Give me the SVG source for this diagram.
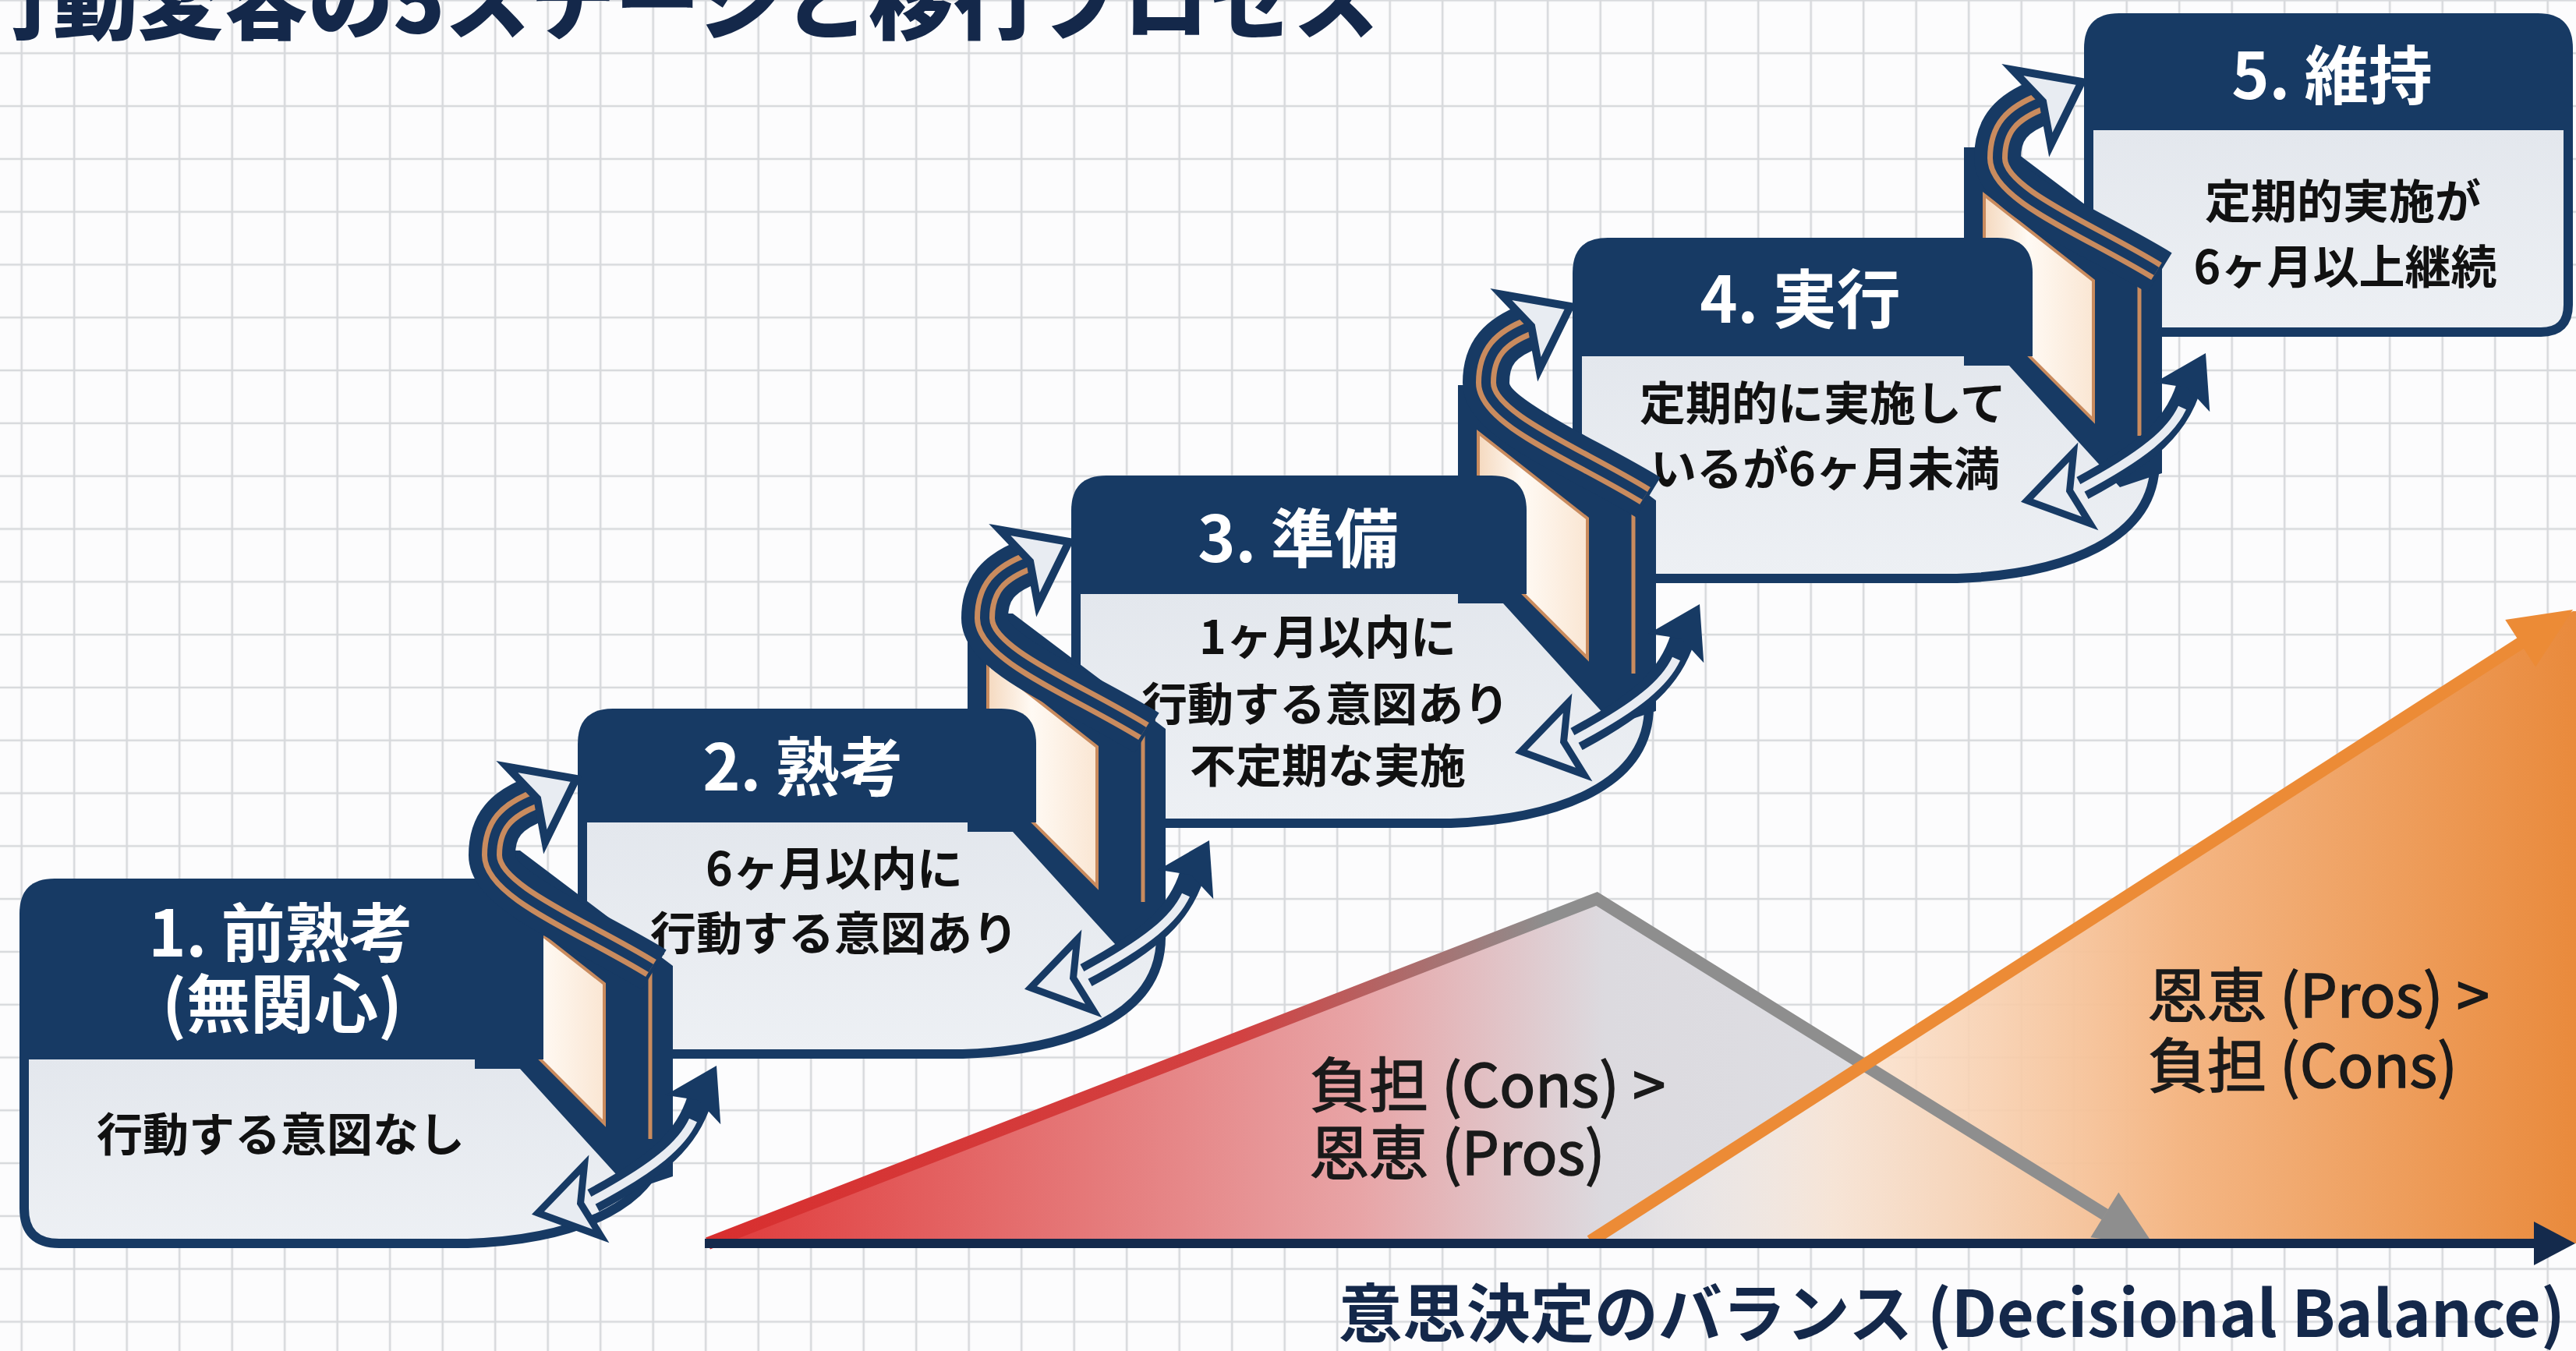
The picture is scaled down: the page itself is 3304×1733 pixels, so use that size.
<svg xmlns="http://www.w3.org/2000/svg" width="3304" height="1733" viewBox="0 0 3304 1733">
<defs>
  <style>
    .navy{fill:#173a64}
    .body{fill:url(#bodyFill);stroke:#173a64;stroke-width:12}
    .th{font-family:"Noto Sans CJK JP","Noto Sans",sans-serif;font-weight:700;font-size:82px;fill:#ffffff;text-anchor:middle}
    .tb{font-family:"Noto Sans CJK JP","Noto Sans",sans-serif;font-weight:700;font-size:59px;fill:#111111;text-anchor:middle}
    .lab{font-family:"Noto Sans CJK JP","Noto Sans",sans-serif;font-weight:400;font-size:76px;fill:#1a1a1a;stroke:#1a1a1a;stroke-width:1.6}
    .cu{fill:none;stroke:#c98b5e}
  </style>
  <pattern id="grid" patternUnits="userSpaceOnUse" x="-6.05" y="34.4" width="67.5" height="67.8">
    <path d="M33.75 0V67.8M0 33.9H67.5" stroke="#d7d9dc" stroke-width="2.6" fill="none"/>
  </pattern>
  <linearGradient id="bodyFill" x1="0" y1="0" x2="0" y2="1">
    <stop offset="0" stop-color="#e3e7ed"/><stop offset="1" stop-color="#edf0f4"/>
  </linearGradient>
  <linearGradient id="creamFace" x1="0" y1="0" x2="1" y2="0">
    <stop offset="0" stop-color="#f5d9bf"/><stop offset="0.4" stop-color="#fffaf4"/><stop offset="1" stop-color="#fae6d3"/>
  </linearGradient>
  <linearGradient id="consFill" gradientUnits="userSpaceOnUse" x1="908" y1="0" x2="2763" y2="0">
    <stop offset="0" stop-color="#e03a3a"/><stop offset="0.2" stop-color="#e46a6a"/>
    <stop offset="0.45" stop-color="#e8a4a6"/><stop offset="0.62" stop-color="#dcdadf"/>
    <stop offset="1" stop-color="#dfe2e7"/>
  </linearGradient>
  <linearGradient id="consLine" gradientUnits="userSpaceOnUse" x1="908" y1="0" x2="2763" y2="0">
    <stop offset="0" stop-color="#d82f2f"/><stop offset="0.37" stop-color="#d24242"/>
    <stop offset="0.58" stop-color="#8e8e8e"/><stop offset="1" stop-color="#8e8e8e"/>
  </linearGradient>
  <linearGradient id="prosFill" gradientUnits="userSpaceOnUse" x1="2040" y1="0" x2="3304" y2="0">
    <stop offset="0" stop-color="#ffffff" stop-opacity="0"/><stop offset="0.25" stop-color="#fbe5d3" stop-opacity="0.85"/>
    <stop offset="0.6" stop-color="#f4b684"/><stop offset="1" stop-color="#e98a3c"/>
  </linearGradient>

  <!-- riser block at the right of a header; origin = header bottom-right corner -->
  <g id="slab">
    <polygon class="navy" points="-88,-268 -30,-268 166,-120 166,150 112,168 -30,12 -88,12"/>
    <polygon points="-62,-207 78,-97 78,82 -62,-58" fill="url(#creamFace)" stroke="#c98b5e" stroke-width="4"/>
    <path class="cu" d="M137,-112V102" stroke-width="5"/>
  </g>

  <!-- forward arrow rising to the next stage -->
  <g id="ribbon">
    <path d="M150,-115C60,-170 -58,-215 -58,-262C-58,-300 -40,-320 0,-335" fill="none" stroke="#173a64" stroke-width="60"/>
    <path d="M146,-117C60,-170 -58,-215 -58,-262C-58,-300 -40,-320 0,-335" fill="none" stroke="#c98b5e" stroke-width="26"/>
    <path d="M146,-117C60,-170 -58,-215 -58,-262C-58,-300 -40,-320 0,-335" fill="none" stroke="#173a64" stroke-width="12"/>
    <polygon points="0,0 -72,-54 -56,0 -72,54" transform="translate(50,-360) rotate(-27)" fill="#e8ecf2" stroke="#173a64" stroke-width="10"/>
  </g>

  <!-- two-way arrow: progress up / relapse back -->
  <g id="cycle">
    <path d="M200,52C185,100 150,135 64,181" fill="none" stroke="#173a64" stroke-width="32"/>
    <path d="M192,78C178,108 145,138 60,183" fill="none" stroke="#e8ecf2" stroke-width="11"/>
    <polygon points="0,0 -64,-40 -50,0 -64,40" transform="translate(222,8) rotate(-62)" fill="#173a64"/>
    <polygon points="0,0 -72,-47 -56,0 -72,47" transform="translate(-7,197) rotate(167)" fill="#e8ecf2" stroke="#173a64" stroke-width="9"/>
  </g>
</defs>

<rect width="3304" height="1733" fill="#fcfcfd"/>
<rect width="3304" height="1733" fill="url(#grid)"/>

<text x="-41" y="42" textLength="1809" lengthAdjust="spacingAndGlyphs" font-family="'Noto Sans CJK JP','Noto Sans',sans-serif" font-weight="900" font-size="110" fill="#14284a">行動変容の5ステージと移行プロセス</text>

<!-- decisional balance chart -->
<g id="decisional-balance">
  <polygon points="908,1595 2048,1153 2763,1598" fill="url(#consFill)"/>
  <polygon points="2040,1595 3300,784 3304,784 3304,1595" fill="url(#prosFill)"/>
  <polyline points="908,1595 2048,1153 2700,1558" fill="none" stroke="url(#consLine)" stroke-width="16" stroke-linejoin="miter"/>
  <polygon points="0,0 -75,-34 -75,34" transform="translate(2763,1598) rotate(31.9)" fill="#8e8e8e"/>
  <line x1="2040" y1="1592" x2="3236" y2="823" stroke="#ec8b36" stroke-width="16"/>
  <polygon points="0,0 -80,-36 -80,36" transform="translate(3300,782) rotate(-32.7)" fill="#ec8b36"/>
  <line x1="904" y1="1595" x2="3255" y2="1595" stroke="#142a4c" stroke-width="12"/>
  <polygon points="3303,1595 3250,1567 3250,1623" fill="#142a4c"/>
  <text class="lab" x="1680" y="1420">負担 (Cons) &gt;</text>
  <text class="lab" x="1680" y="1507">恩恵 (Pros)</text>
  <text class="lab" x="2755" y="1305">恩恵 (Pros) &gt;</text>
  <text class="lab" x="2755" y="1395">負担 (Cons)</text>
  <text x="3290" y="1715" text-anchor="end" font-family="'Noto Sans CJK JP','Noto Sans',sans-serif" font-weight="700" font-size="82" fill="#14284a">意思決定のバランス (Decisional Balance)</text>
</g>

<!-- stage 5 -->
<g id="stage5">
  <path class="body" d="M2679,161V391Q2679,426 2714,426H3259Q3294,426 3294,391V161Z"/>
  <path class="navy" d="M2673,167V62Q2673,17 2718,17H3255Q3300,17 3300,62V167Z"/>
  <text class="th" x="2991" y="127">5. 維持</text>
  <text class="tb" x="3005" y="280">定期的実施が</text>
  <text class="tb" x="3008" y="364">6ヶ月以上継続</text>
</g>

<!-- stage 4 -->
<g id="stage4">
  <path class="body" d="M2023,451V697Q2023,742 2068,742H2510C2650,737 2764,692 2764,592V451Z"/>
  <use href="#slab" transform="translate(2607,457)"/>
  <path class="navy" d="M2017,457V350Q2017,305 2062,305H2562Q2607,305 2607,350V457Z"/>
  <text class="th" x="2309" y="414">4. 実行</text>
  <text class="tb" x="2338" y="539">定期的に実施して</text>
  <text class="tb" x="2341" y="623">いるが6ヶ月未満</text>
</g>

<!-- stage 3 -->
<g id="stage3">
  <path class="body" d="M1380,756V1011Q1380,1056 1425,1056H1861C2001,1051 2115,1006 2115,906V756Z"/>
  <use href="#slab" transform="translate(1958,762)"/>
  <path class="navy" d="M1374,762V655Q1374,610 1419,610H1913Q1958,610 1958,655V762Z"/>
  <text class="th" x="1665" y="721">3. 準備</text>
  <text class="tb" x="1703" y="839">1ヶ月以内に</text>
  <text class="tb" x="1700" y="925">行動する意図あり</text>
  <text class="tb" x="1703" y="1004">不定期な実施</text>
</g>

<!-- stage 2 -->
<g id="stage2">
  <path class="body" d="M747,1049V1307Q747,1352 792,1352H1235C1375,1347 1489,1302 1489,1202V1049Z"/>
  <use href="#slab" transform="translate(1329,1055)"/>
  <path class="navy" d="M741,1055V954Q741,909 786,909H1284Q1329,909 1329,954V1055Z"/>
  <text class="th" x="1030" y="1014">2. 熟考</text>
  <text class="tb" x="1070" y="1136">6ヶ月以内に</text>
  <text class="tb" x="1070" y="1219">行動する意図あり</text>
</g>

<!-- stage 1 -->
<g id="stage1">
  <path class="body" d="M31,1353V1550Q31,1595 76,1595H600C740,1590 854,1545 854,1445V1353Z"/>
  <use href="#slab" transform="translate(697,1359)"/>
  <path class="navy" d="M25,1359V1172Q25,1127 70,1127H652Q697,1127 697,1172V1359Z"/>
  <text class="th" x="360" y="1227">1. 前熟考</text>
  <text class="th" x="362" y="1318">(無関心)</text>
  <text class="tb" x="360" y="1477">行動する意図なし</text>
</g>

<!-- transitions between stages -->
<g id="connectors">
  <use href="#ribbon" transform="translate(689,1359)"/>
  <use href="#ribbon" transform="translate(1321,1055)"/>
  <use href="#ribbon" transform="translate(1964,753)"/>
  <use href="#ribbon" transform="translate(2620,465)"/>
  <use href="#cycle" transform="translate(697,1359)"/>
  <use href="#cycle" transform="translate(1329,1070)"/>
  <use href="#cycle" transform="translate(1958,767)"/>
  <use href="#cycle" transform="translate(2607,445)"/>
</g>
</svg>
